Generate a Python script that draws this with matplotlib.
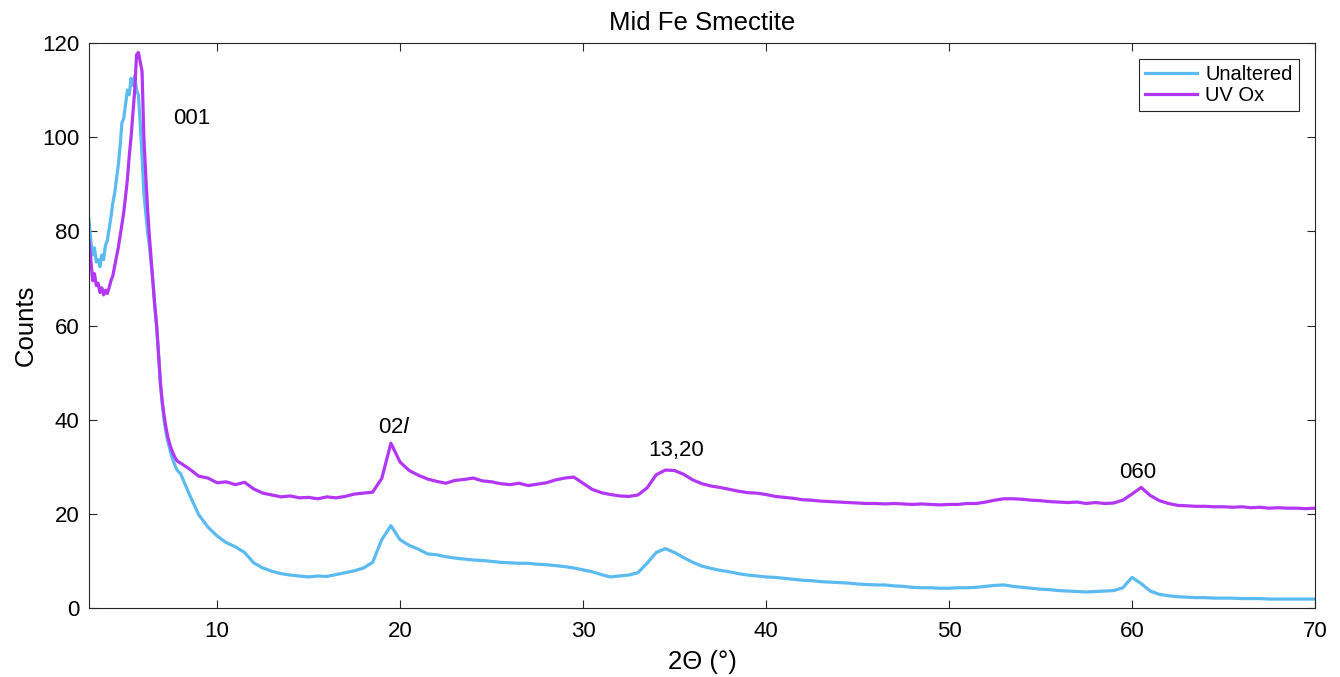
import numpy as np
import matplotlib
matplotlib.use("Agg")
import matplotlib.pyplot as plt

plt.rcParams['font.family'] = ['Liberation Sans', 'DejaVu Sans']

# measurement grids (2-theta, degrees)
two_theta_low = np.round(np.arange(3.0, 7.95, 0.1), 2)    # 3.0 .. 7.9
two_theta_high = np.round(np.arange(8.0, 70.01, 0.5), 2)  # 8.0 .. 70.0

# Unaltered, low-angle part (3.0 - 7.9)
unaltered_low = [
    82.5, 78.0, 75.0, 76.5, 73.5, 74.0, 72.5, 75.0, 74.0, 77.0,
    78.0, 80.5, 83.0, 86.0, 88.0, 91.0, 94.0, 98.0, 103.0, 104.0,
    107.0, 110.0, 109.0, 112.5, 111.0, 113.0, 110.0, 109.0, 103.0, 96.0,
    88.0, 84.0, 80.0, 77.0, 73.0, 69.0, 64.0, 59.5, 54.0, 48.0,
    43.5, 40.0, 37.5, 35.5, 34.0, 32.5, 31.3, 30.3, 29.4, 28.9,
]
# Unaltered, 8 - 70
unaltered_high = [
    28.6, 24.0, 19.8, 17.2, 15.3, 13.9, 13.0, 11.8, 9.6, 8.5,
    7.8, 7.3, 7.0, 6.8, 6.6, 6.8, 6.7, 7.1, 7.5, 7.9,
    8.5, 9.7, 14.5, 17.5, 14.5, 13.3, 12.5, 11.5, 11.3, 10.9,
    10.6, 10.4, 10.2, 10.1, 9.9, 9.7, 9.6, 9.5, 9.5, 9.3,
    9.2, 9.0, 8.8, 8.5, 8.1, 7.7, 7.1, 6.6, 6.8, 7.0,
    7.5, 9.5, 11.8, 12.6, 11.8, 10.7, 9.7, 8.9, 8.4, 8.0,
    7.7, 7.3, 7.0, 6.8, 6.6, 6.5, 6.3, 6.1, 5.9, 5.8,
    5.6, 5.5, 5.4, 5.3, 5.1, 5.0, 4.9, 4.9, 4.7, 4.6,
    4.4, 4.3, 4.3, 4.2, 4.2, 4.3, 4.3, 4.4, 4.6, 4.8,
    4.9, 4.6, 4.4, 4.2, 4.0, 3.9, 3.7, 3.6, 3.5, 3.4,
    3.5, 3.6, 3.7, 4.3, 6.5, 5.2, 3.6, 2.9, 2.6, 2.4,
    2.3, 2.2, 2.2, 2.1, 2.1, 2.1, 2.0, 2.0, 2.0, 1.9,
    1.9, 1.9, 1.9, 1.9, 1.9,
]

# UV Ox, low-angle part (3.0 - 7.9)
uvox_low = [
    78.0, 74.0, 69.5, 71.0, 68.5, 69.0, 67.0, 68.0, 66.5, 67.5,
    66.8, 68.0, 69.5, 70.5, 72.5, 74.5, 76.5, 79.0, 81.5, 84.0,
    87.5, 91.0, 96.0, 100.0, 105.0, 110.0, 117.5, 118.0, 116.0, 114.0,
    100.0, 92.0, 85.0, 79.0, 74.0, 69.0, 64.0, 60.0, 54.0, 48.0,
    44.0, 41.0, 38.5, 36.5, 35.0, 33.8, 32.8, 32.0, 31.3, 31.0,
]
# UV Ox, 8 - 70
uvox_high = [
    30.8, 29.5, 28.0, 27.6, 26.6, 26.8, 26.2, 26.7, 25.3, 24.4,
    24.0, 23.6, 23.8, 23.4, 23.5, 23.2, 23.6, 23.4, 23.7, 24.2,
    24.4, 24.6, 27.5, 35.0, 31.0, 29.2, 28.2, 27.4, 26.9, 26.5,
    27.1, 27.3, 27.6, 27.0, 26.8, 26.4, 26.2, 26.5, 26.0, 26.3,
    26.6, 27.2, 27.6, 27.8, 26.5, 25.2, 24.5, 24.1, 23.8, 23.7,
    24.0, 25.5, 28.3, 29.3, 29.2, 28.4, 27.2, 26.4, 25.9, 25.6,
    25.2, 24.8, 24.5, 24.4, 24.1, 23.7, 23.5, 23.3, 23.0, 22.9,
    22.7, 22.6, 22.5, 22.4, 22.3, 22.2, 22.2, 22.1, 22.2, 22.1,
    22.0, 22.1, 22.0, 21.9, 22.0, 22.0, 22.2, 22.2, 22.5, 22.9,
    23.2, 23.2, 23.1, 22.9, 22.8, 22.6, 22.5, 22.4, 22.5, 22.2,
    22.4, 22.2, 22.3, 22.9, 24.2, 25.6, 23.9, 22.8, 22.2, 21.8,
    21.7, 21.6, 21.6, 21.5, 21.5, 21.4, 21.5, 21.3, 21.4, 21.2,
    21.3, 21.2, 21.2, 21.1, 21.2,
]

peak_labels = ["001", "02$\\it{l}$", "13,20", "060"]
peak_x = [8.6, 19.7, 35.1, 60.3]
peak_y = [104, 38.4, 33.5, 28.7]

two_theta = np.concatenate([two_theta_low, two_theta_high])
unaltered = np.concatenate([unaltered_low, unaltered_high])
uvox = np.concatenate([uvox_low, uvox_high])

fig = plt.figure(figsize=(13.4, 6.77), dpi=100)
ax = fig.add_axes([0.0664, 0.1019, 0.9149, 0.8346])

ax.plot(two_theta, unaltered, color='#5BBBF0', lw=2.3, label='Unaltered')
ax.plot(two_theta, uvox, color='#B336F5', lw=2.3, label='UV Ox')

for lab, px, py in zip(peak_labels, peak_x, peak_y):
    ax.text(px, py, lab, fontsize=16, ha='center', va='center', color='black')

ax.set_xlim(3, 70)
ax.set_ylim(0, 120)
ax.set_xticks([10, 20, 30, 40, 50, 60, 70])
ax.set_yticks([0, 20, 40, 60, 80, 100, 120])
ax.tick_params(direction='in', top=True, right=True, length=6, width=0.8,
               colors='#262626', labelsize=16, labelcolor='black')
ax.tick_params(axis='x', pad=9)
ax.tick_params(axis='y', pad=7)
for s in ax.spines.values():
    s.set_color('#262626')
    s.set_linewidth(0.8)

ax.set_xlabel("2\u0398 (\u00b0)", fontsize=18.5, labelpad=6)
ax.set_ylabel("Counts", fontsize=18.5, labelpad=3)
ax.set_title("Mid Fe Smectite", fontsize=18.5, pad=9)

leg = ax.legend(loc='upper right', fontsize=14.5, fancybox=False, framealpha=1,
                edgecolor='#262626', borderaxespad=0.8, handlelength=2.6,
                labelspacing=0.1, borderpad=0.3, handletextpad=0.4)
leg.get_frame().set_linewidth(0.8)

fig.savefig("out.png", dpi=100)
